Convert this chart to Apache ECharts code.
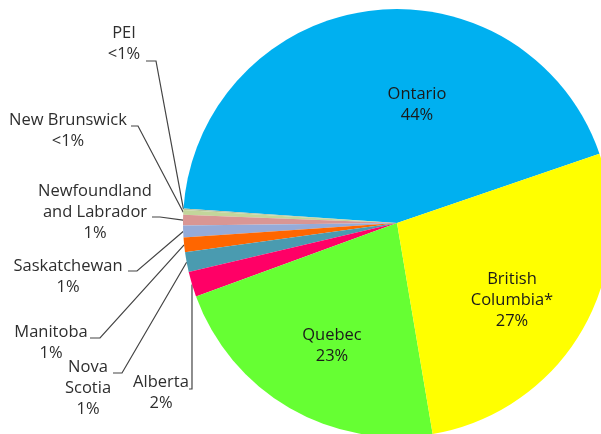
<!DOCTYPE html>
<html>
<head>
<meta charset="utf-8">
<script src="https://cdn.jsdelivr.net/npm/echarts@6/dist/echarts.min.js"></script>
<style>
  html, body { margin: 0; padding: 0; background: #fff; }
  #chart { width: 601px; height: 434px; }
</style>
</head>
<body>
<div id="chart"></div>
<script>
// share by province, in pie order (counter-clockwise from the Ontario / BC edge)
const provinces = ['Ontario', 'PEI', 'New Brunswick', 'Newfoundland\nand Labrador', 'Saskatchewan',
  'Manitoba', 'Nova\nScotia', 'Alberta', 'Quebec', 'British\nColumbia*']
const shares = [43.7, 0.1, 0.36, 0.8, 0.9, 1.1, 1.5, 1.9, 22.1, 27.6]
const shareLabels = ['44%', '<1%', '<1%', '1%', '1%', '1%', '1%', '2%', '23%', '27%']

const sliceColors = ['#00b0f0', '#b9c4a0', '#c3d69b', '#d99694', '#95abd8',
  '#ff6600', '#4a9bb0', '#ff0066', '#66ff33', '#ffff00']

// label placement, same order as provinces
// at = centre of the text block, elbow/end = leader line after it leaves the pie
const labelSpots = [
  { at: [417, 105], inside: true },
  { at: [124, 44], elbow: [156, 61], end: [146, 61] },
  { at: [68, 131], elbow: [138, 126], end: [131, 126] },
  { at: [95, 212], elbow: [160, 217], end: [152, 217] },
  { at: [68, 277], elbow: [137, 271], end: [128, 271] },
  { at: [51, 343], elbow: [100, 338], end: [90, 338] },
  { at: [88, 388], elbow: [122, 373], end: [113, 373] },
  { at: [161, 393], drop: 389 }, // Alberta line drops straight down
  { at: [332, 346], inside: true },
  { at: [512, 300], inside: true }
]

const chart = echarts.init(document.getElementById('chart'))

chart.setOption({
  animation: false,
  color: sliceColors,
  series: [
    {
      type: 'pie',
      center: [397, 223],
      radius: 214,
      startAngle: 18.9,
      clockwise: false,
      avoidLabelOverlap: false,
      itemStyle: { borderWidth: 0 },
      label: {
        formatter: (p) => p.name + '\n' + shareLabels[p.dataIndex],
        fontFamily: 'Open Sans',
        fontSize: 16.5,
        lineHeight: 21,
        color: '#2e2e2e'
      },
      labelLine: {
        show: true,
        length: 10,
        length2: 10,
        lineStyle: { color: '#444', width: 1.2 }
      },
      data: provinces.map((name, i) => {
        const item = { name: name, value: shares[i] }
        if (labelSpots[i].inside) {
          item.label = { position: 'inside', color: '#1a1a1a' }
          item.labelLine = { show: false }
        }
        return item
      }),
      labelLayout: (params) => {
        const spot = labelSpots[params.dataIndex]
        const out = { x: spot.at[0], y: spot.at[1], align: 'center', verticalAlign: 'middle' }
        if (!spot.inside && params.labelLinePoints) {
          const edge = params.labelLinePoints[0]
          if (spot.drop) {
            out.labelLinePoints = [edge, [edge[0], spot.drop], [edge[0] - 3, spot.drop]]
          } else {
            out.labelLinePoints = [edge, spot.elbow, spot.end]
          }
        }
        return out
      }
    }
  ]
})
</script>
</body>
</html>
